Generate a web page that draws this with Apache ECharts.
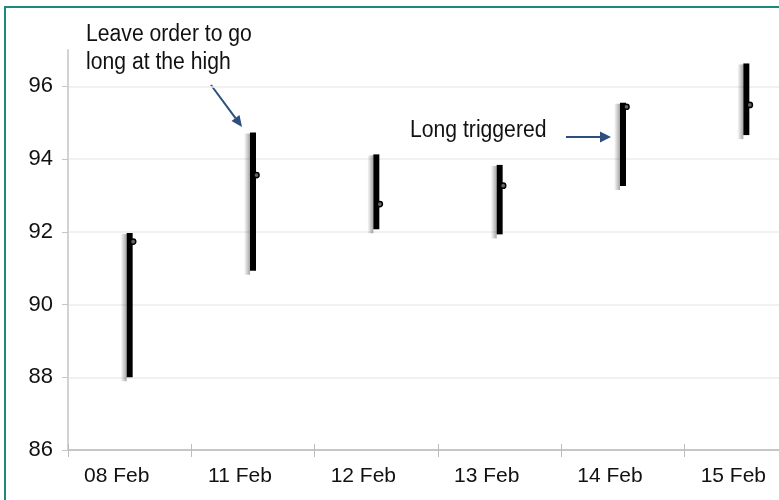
<!DOCTYPE html>
<html>
<head>
<meta charset="utf-8">
<script src="https://cdn.jsdelivr.net/npm/echarts@6/dist/echarts.min.js"></script>
<style>
html,body{margin:0;padding:0;background:#fff;}
#c{width:779px;height:500px;}
</style>
</head>
<body>
<div id="c"></div>
<script>
const categories = ['08 Feb', '11 Feb', '12 Feb', '13 Feb', '14 Feb', '15 Feb'];
const highs  = [91.97, 94.73, 94.13, 93.84, 95.55, 96.63];
const lows   = [88.00, 90.93, 92.07, 91.93, 93.26, 94.66];
const closes = [91.73, 93.56, 92.76, 93.27, 95.44, 95.49];
const yTicks = [86, 88, 90, 92, 94, 96];

const FONT = '"Liberation Sans", Arial, sans-serif';
const ARROW = '#2d4f80';

const data = categories.map((c, i) => [i, highs[i], lows[i], closes[i]]);

const chart = echarts.init(document.getElementById('c'), null, {renderer: 'canvas'});

function renderItem(params, api) {
  const i = api.value(0);
  const hi = api.coord([i, api.value(1)]);
  const lo = api.coord([i, api.value(2)]);
  const cl = api.coord([i, api.value(3)]);
  const w = 6;
  const sw = 6;
  return {
    type: 'group',
    children: [
      {
        type: 'rect',
        shape: {x: hi[0] - w / 2 - sw, y: hi[1] + 1, width: sw, height: lo[1] - hi[1] + 3},
        style: {
          fill: new echarts.graphic.LinearGradient(0, 0, 1, 0, [
            {offset: 0, color: 'rgba(0,0,0,0)'},
            {offset: 1, color: 'rgba(0,0,0,0.35)'}
          ])
        }
      },
      {
        type: 'rect',
        shape: {x: hi[0] - w / 2, y: hi[1], width: w, height: lo[1] - hi[1]},
        style: {fill: '#000'}
      },
      {
        type: 'circle',
        shape: {cx: cl[0] + 3.5, cy: cl[1], r: 2.6},
        style: {fill: '#666', stroke: '#000', lineWidth: 1.5}
      }
    ]
  };
}

const option = {
  backgroundColor: '#fff',
  animation: false,
  grid: {left: 68, top: 50, bottom: 50, right: -29, containLabel: false, outerBoundsMode: 'none'},
  xAxis: [
    {
      type: 'category',
      data: categories,
      boundaryGap: true,
      axisLine: {show: true, lineStyle: {color: '#c6c6c6', width: 2}},
      axisTick: {show: true, length: 7, lineStyle: {color: '#bdbdbd', width: 1}},
      axisLabel: {
        color: '#111',
        fontFamily: FONT,
        fontSize: 21,
        margin: 16,
        padding: [0, 26, 0, 0],
        hideOverlap: false
      },
      splitLine: {show: false}
    },
    {
      type: 'category',
      data: categories,
      position: 'bottom',
      boundaryGap: true,
      axisLine: {show: false},
      axisTick: {show: true, inside: true, length: 6, lineStyle: {color: '#bdbdbd', width: 1}},
      axisLabel: {show: false},
      splitLine: {show: false}
    }
  ],
  yAxis: {
    type: 'value',
    min: 86,
    max: 97,
    interval: 2,
    axisLine: {show: true, lineStyle: {color: '#d2d2d2', width: 2}},
    axisTick: {show: true, length: 6, customValues: yTicks, lineStyle: {color: '#c6c6c6', width: 1}},
    axisLabel: {
      customValues: yTicks,
      color: '#111',
      fontFamily: FONT,
      fontSize: 22,
      margin: 15
    },
    splitLine: {show: true, lineStyle: {color: '#ececec', width: 1.5}}
  },
  series: [{
    type: 'custom',
    xAxisIndex: 0,
    yAxisIndex: 0,
    renderItem: renderItem,
    encode: {x: 0, y: [1, 2, 3]},
    data: data,
    clip: false
  }],
  graphic: [
    {
      type: 'rect',
      shape: {x: 5, y: 7, width: 900, height: 600},
      style: {fill: 'none', stroke: '#1b8a7e', lineWidth: 2},
      z: 100
    },
    {
      type: 'text', x: 86, y: 35, scaleX: 0.92,
      style: {text: 'Leave order to go', x: 0, y: 0, fill: '#111',
        font: '23px "Liberation Sans", Arial, sans-serif', verticalAlign: 'middle', align: 'left'}
    },
    {
      type: 'text', x: 86, y: 63, scaleX: 0.92,
      style: {text: 'long at the high', x: 0, y: 0, fill: '#111',
        font: '23px "Liberation Sans", Arial, sans-serif', verticalAlign: 'middle', align: 'left'}
    },
    {
      type: 'text', x: 410, y: 130.5, scaleX: 0.92,
      style: {text: 'Long triggered', x: 0, y: 0, fill: '#111',
        font: '23px "Liberation Sans", Arial, sans-serif', verticalAlign: 'middle', align: 'left'}
    },
    {
      type: 'line',
      shape: {x1: 211, y1: 85, x2: 235.5, y2: 118.1},
      style: {stroke: ARROW, lineWidth: 2}
    },
    {
      type: 'polygon',
      shape: {points: [[242, 127], [231.5, 121.1], [239.5, 115.1]]},
      style: {fill: ARROW}
    },
    {
      type: 'line',
      shape: {x1: 566, y1: 137, x2: 601, y2: 137},
      style: {stroke: ARROW, lineWidth: 2}
    },
    {
      type: 'polygon',
      shape: {points: [[611, 137], [600, 131.5], [600, 142.5]]},
      style: {fill: ARROW}
    }
  ]
};

chart.setOption(option);
</script>
</body>
</html>
